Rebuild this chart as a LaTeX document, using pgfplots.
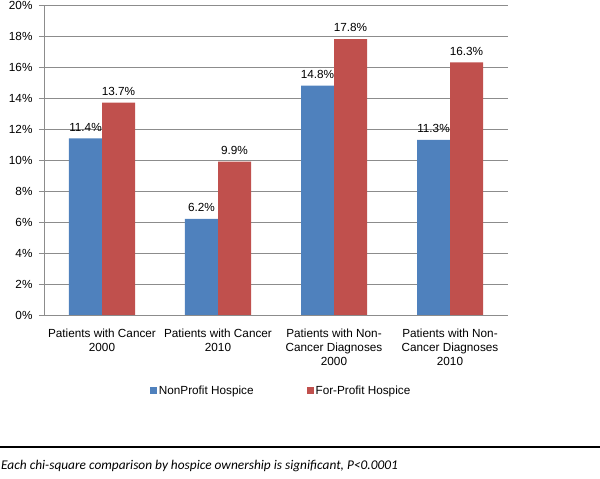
\documentclass[border=0pt]{standalone}
\usepackage{pgfplots}
\pgfplotsset{compat=1.18}
\usepackage{fontspec}
\setmainfont{Liberation Sans}
\newfontfamily\calibri{Carlito}
\definecolor{npblue}{HTML}{4F81BD}
\definecolor{fpred}{HTML}{C0504D}
\definecolor{gridgray}{HTML}{8C8C8C}
\begin{document}
\begin{tikzpicture}
\path[use as bounding box] (0,0) rectangle (600bp,479bp);
\begin{axis}[
  at={(44bp,164bp)}, anchor=south west,
  scale only axis, width=464bp, height=310bp,
  xmin=-0.5, xmax=3.5, ymin=0, ymax=20,
  ybar=0pt, bar width=33bp,
  xtick={0,1,2,3},
  xticklabels={{Patients with Cancer\\2000},{Patients with Cancer\\2010},{Patients with Non-\\Cancer Diagnoses\\2000},{Patients with Non-\\Cancer Diagnoses\\2010}},
  xticklabel style={align=center, font=\fontsize{11.8}{14.5}\selectfont, yshift=-5bp},
  x tick style={draw=none},
  extra x ticks={-0.5,0.5,1.5,2.5,3.5},
  extra x tick labels={},
  extra x tick style={major tick length=5bp, tick align=outside, tick style={draw=gridgray, line width=0.8bp}},
  ytick={0,2,...,20},
  yticklabel={\pgfmathprintnumber{\tick}\%},
  y tick style={draw=gridgray, line width=0.8bp},
  ymajorgrids, grid style={draw=gridgray, line width=0.8bp},
  axis line style={draw=gridgray, line width=0.8bp},
  axis x line*=bottom, axis y line*=left,
  tick align=outside, major tick length=5bp,
  /pgf/number format/assume math mode=true,
  yticklabel style={font=\fontsize{11.8}{14}\selectfont, xshift=-3bp},
  nodes near coords={\pgfmathprintnumber[fixed,precision=1,fixed zerofill]{\pgfplotspointmeta}\%},
  nodes near coords style={font=\fontsize{11.8}{14}\selectfont, black, inner sep=2bp, yshift=5bp},
  legend columns=2,
  legend style={draw=none, at={(0.511,-0.245)}, anchor=center, font=\fontsize{11.8}{14}\selectfont,
    /tikz/every even column/.append style={column sep=51bp}},
  legend image code/.code={\fill[#1] (0bp,-3.5bp) rectangle (7bp,3.5bp);},
]
\addplot[fill=npblue, draw=none] coordinates {(0,11.4) (1,6.2) (2,14.8) (3,11.3)};
\addplot[fill=fpred, draw=none] coordinates {(0,13.7) (1,9.9) (2,17.8) (3,16.3)};
\legend{NonProfit Hospice, For-Profit Hospice}
\end{axis}
\draw[line width=2bp] (0,32bp) -- (600bp,32bp);
\node[anchor=west, inner sep=0pt, font=\calibri\itshape\fontsize{13.4}{15}\selectfont] at (1bp,13bp) {Each chi-square comparison by hospice ownership is significant, P<0.0001};
\end{tikzpicture}
\end{document}
